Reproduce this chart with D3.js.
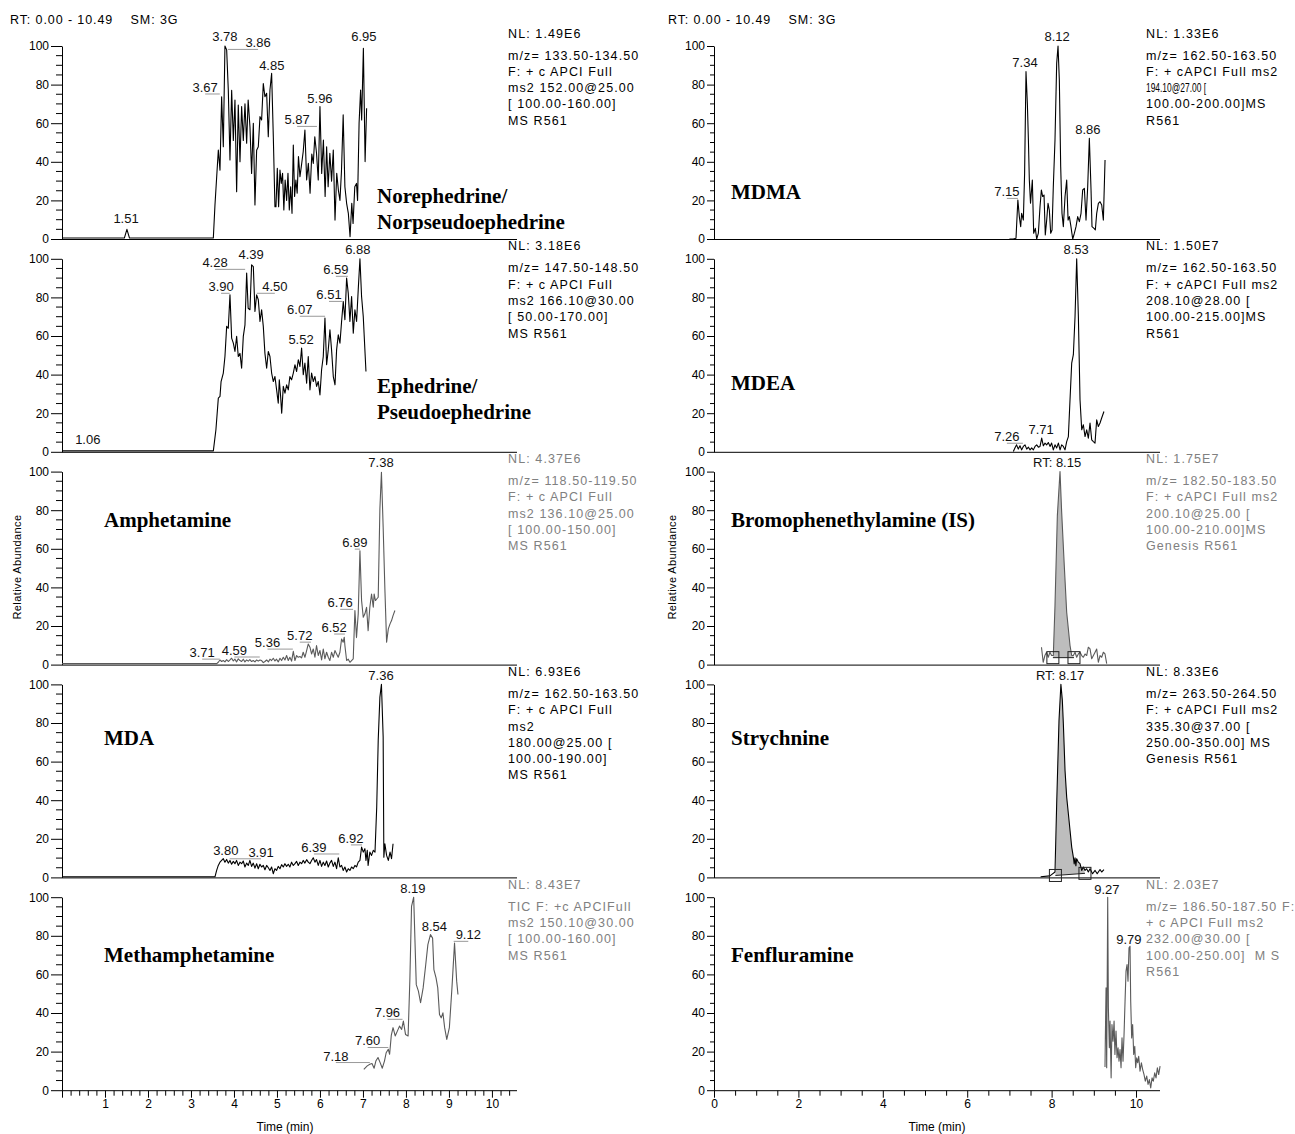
<!DOCTYPE html>
<html>
<head>
<meta charset="utf-8">
<script src="https://cdn.jsdelivr.net/npm/d3@7"></script>
<style>
  body { margin: 0; background: #fff; }
  text { font-family: 'Liberation Sans', Arial, sans-serif; }
  .name { font-family: 'Liberation Serif', 'Times New Roman', serif; font-weight: bold; font-size: 21px; }
</style>
</head>
<body>
<svg id="chart" width="1295" height="1134"></svg>
<script>
// ---- data (time in min, relative abundance in %) ----
var yTicks = [0, 20, 40, 60, 80, 100];
var leftTimeTicks = [1, 2, 3, 4, 5, 6, 7, 8, 9, 10];
var rightTimeTicks = [0, 2, 4, 6, 8, 10];
var header = "RT: 0.00 - 10.49    SM: 3G";

var norephedrine = [[0,0.5],[1.45,0.5],[1.51,5],[1.57,0.5],[3.52,0.5],[3.558,17.6],[3.636,46.1],[3.675,35.7],[3.713,73.7],[3.752,47.8],[3.79,100],[3.83,98],[3.868,77.2],[3.907,41],[3.946,77],[3.985,51],[4.023,72],[4.062,24.5],[4.10,69.4],[4.14,40],[4.178,68.6],[4.217,51],[4.256,70],[4.295,49.6],[4.33,72],[4.372,58],[4.41,34],[4.45,60],[4.488,17.6],[4.527,46],[4.566,47.8],[4.605,63.4],[4.643,61.7],[4.682,80.6],[4.72,73.7],[4.76,75.5],[4.798,53],[4.837,77.2],[4.876,85.8],[4.915,53],[4.953,16.7],[4.977,16.7],[5.008,36.6],[5.038,16.7],[5.07,35.7],[5.10,28.8],[5.13,34],[5.16,15],[5.19,30.6],[5.225,20],[5.256,34],[5.287,15],[5.318,27.1],[5.35,13.3],[5.38,48.7],[5.41,22],[5.44,30.6],[5.47,23.7],[5.50,42.7],[5.535,32.3],[5.566,37.5],[5.61,45.2],[5.65,56.5],[5.69,30.6],[5.73,39.2],[5.77,23.7],[5.81,44],[5.845,39.2],[5.88,53],[5.92,44.4],[5.96,30.6],[6.0,68.6],[6.04,34],[6.08,51.3],[6.12,22],[6.155,47.8],[6.19,27.1],[6.23,44.4],[6.27,30],[6.31,46.1],[6.35,9.8],[6.39,34],[6.43,25],[6.465,20],[6.50,35],[6.54,64.3],[6.58,27.1],[6.62,18.5],[6.66,13.3],[6.70,1.2],[6.74,18.5],[6.77,8.1],[6.81,27.1],[6.85,28.8],[6.875,20],[6.91,60],[6.945,77.2],[6.97,61.7],[7.01,98.8],[7.05,40.1],[7.085,67.7]];
var ephedrine = [[0,0.5],[3.52,0.5],[3.58,11.4],[3.636,27.8],[3.675,28.7],[3.70,36.4],[3.752,40.8],[3.79,49.4],[3.83,65],[3.868,64],[3.907,81.3],[3.946,58.9],[3.985,56.3],[4.023,52],[4.062,59.8],[4.10,49.4],[4.14,51],[4.178,43.3],[4.217,59.8],[4.256,65.8],[4.295,92.6],[4.33,74.4],[4.372,73.6],[4.41,96.9],[4.45,96],[4.488,72.7],[4.527,81.3],[4.566,78.8],[4.605,67.5],[4.643,73.6],[4.682,65],[4.72,51],[4.76,43.3],[4.798,52],[4.837,49.4],[4.876,40.8],[4.915,36.4],[4.953,39],[4.992,32.1],[5.03,25.2],[5.054,37.3],[5.085,28.7],[5.11,20],[5.147,33.9],[5.186,30.4],[5.225,34.7],[5.263,32.1],[5.30,39],[5.34,37.3],[5.38,40.8],[5.418,45.1],[5.457,41.6],[5.496,47.7],[5.535,44.2],[5.573,53.7],[5.612,39.9],[5.65,46],[5.69,35.6],[5.728,49.4],[5.767,32.1],[5.806,40.8],[5.845,36.4],[5.883,39],[5.922,33.9],[5.96,36.4],[6.0,29.5],[6.038,42.5],[6.077,49.4],[6.116,69.3],[6.155,45.1],[6.193,52.8],[6.232,63.2],[6.27,52.8],[6.31,39],[6.35,34.7],[6.387,52.8],[6.426,60.6],[6.465,56.3],[6.503,67.5],[6.542,77.9],[6.58,68.4],[6.62,90],[6.658,82.2],[6.697,67.5],[6.736,80.5],[6.775,61.5],[6.813,73.6],[6.852,67.5],[6.89,83.9],[6.93,100],[6.968,80.5],[7.007,70.1],[7.07,41.6]];
var amphetamine = [[0,0.5],[3.6,0.5],[3.635,1.2],[3.674,2.4],[3.713,1.6],[3.752,2.1],[3.79,1.4],[3.83,2.6],[3.868,1.6],[3.907,2.4],[3.945,3.3],[3.984,1.9],[4.023,2.8],[4.06,1.4],[4.10,3.0],[4.139,2.1],[4.178,1.6],[4.216,2.8],[4.255,1.4],[4.294,2.4],[4.333,1.8],[4.37,2.6],[4.41,1.6],[4.449,2.1],[4.488,1.4],[4.527,2.4],[4.565,1.8],[4.604,2.4],[4.643,2.1],[4.682,1.0],[4.72,1.6],[4.76,2.4],[4.80,1.4],[4.837,2.8],[4.875,2.1],[4.914,3.3],[4.953,1.9],[4.99,2.8],[5.03,1.4],[5.07,3.3],[5.108,2.1],[5.147,3.8],[5.185,2.4],[5.224,4.7],[5.263,2.1],[5.30,3.8],[5.34,1.8],[5.38,6.9],[5.418,2.1],[5.457,4.7],[5.495,3.8],[5.534,4.2],[5.573,3.5],[5.61,6.4],[5.65,3.8],[5.69,7.3],[5.728,10.7],[5.767,9.0],[5.805,5.5],[5.844,8.1],[5.883,3.8],[5.92,9.9],[5.96,4.7],[6.0,7.3],[6.038,2.4],[6.077,8.1],[6.115,3.0],[6.154,6.4],[6.193,3.8],[6.23,2.1],[6.27,6.4],[6.31,3.8],[6.348,7.3],[6.387,5.5],[6.425,3.8],[6.464,6.4],[6.503,13.3],[6.54,11.6],[6.565,14.2],[6.58,9.9],[6.62,2.1],[6.658,2.8],[6.697,1.2],[6.735,2.1],[6.774,3.0],[6.813,28],[6.85,14],[6.89,26.3],[6.93,59],[6.968,33.2],[7.007,24.5],[7.045,26.3],[7.084,29.7],[7.12,17.6],[7.16,29.7],[7.20,36.6],[7.24,29.7],[7.26,36.6],[7.29,33.2],[7.32,34],[7.355,34.9],[7.394,80.7],[7.43,99.7],[7.47,71.2],[7.51,39.2],[7.55,11.6],[7.59,18.5],[7.63,21.1],[7.665,22.8],[7.70,25.4],[7.743,28]];
var mda = [[0,0.3],[3.558,0.3],[3.597,3.6],[3.635,6.2],[3.674,7.9],[3.713,8.8],[3.752,9.7],[3.79,7.9],[3.83,9.3],[3.868,7.4],[3.907,8.8],[3.945,6.8],[3.984,8.3],[4.023,7.1],[4.06,8.8],[4.10,6.2],[4.139,7.9],[4.178,7.1],[4.216,8.5],[4.255,5.4],[4.294,7.4],[4.333,6.2],[4.37,8.8],[4.41,5.7],[4.449,7.4],[4.488,4.8],[4.527,7.1],[4.565,4.5],[4.604,6.8],[4.643,5.4],[4.682,6.2],[4.72,4.0],[4.76,6.2],[4.80,5.0],[4.837,3.6],[4.875,5.4],[4.914,1.9],[4.953,4.5],[4.99,3.6],[5.03,5.7],[5.07,4.5],[5.108,6.6],[5.147,5.4],[5.185,7.1],[5.224,5.7],[5.263,6.8],[5.30,5.4],[5.34,7.9],[5.38,6.2],[5.418,7.1],[5.457,8.3],[5.495,6.2],[5.534,7.9],[5.573,7.1],[5.61,8.8],[5.65,7.4],[5.69,9.2],[5.728,7.9],[5.767,7.1],[5.805,8.8],[5.844,10.2],[5.883,7.9],[5.92,9.2],[5.96,6.2],[6.0,8.8],[6.038,5.7],[6.077,7.9],[6.115,6.2],[6.154,8.5],[6.193,5.4],[6.23,7.4],[6.27,8.8],[6.31,5.7],[6.348,7.9],[6.387,4.5],[6.425,10.2],[6.464,5.4],[6.503,6.2],[6.54,3.6],[6.58,5.4],[6.62,2.8],[6.658,4.5],[6.697,3.6],[6.735,5.4],[6.774,4.5],[6.813,6.2],[6.85,5.4],[6.89,7.9],[6.93,8.8],[6.968,15.7],[7.007,13.1],[7.045,14.9],[7.07,8.8],[7.10,14],[7.12,6.2],[7.16,13.1],[7.20,11.4],[7.24,14],[7.28,13.1],[7.32,36.4],[7.355,71],[7.394,93.4],[7.43,100],[7.47,72.7],[7.486,10.5],[7.51,17.4],[7.55,11.4],[7.59,8.8],[7.63,13.1],[7.665,9.7],[7.70,17.4]];
var methamphetamine = [[7.02,10.8],[7.10,12.6],[7.16,13.4],[7.21,13.8],[7.26,11.4],[7.30,15.1],[7.35,16.9],[7.40,14.3],[7.45,11.4],[7.50,15.1],[7.54,19.4],[7.59,21.2],[7.62,18.6],[7.66,28.6],[7.70,32.4],[7.75,28.1],[7.80,30.6],[7.85,33.2],[7.90,31.5],[7.94,35.8],[7.99,28.9],[8.05,28.1],[8.09,56.5],[8.13,95.2],[8.18,100],[8.24,54.7],[8.29,51.3],[8.34,45.3],[8.40,53],[8.46,65],[8.51,75.4],[8.57,80.6],[8.62,78.8],[8.65,62.5],[8.70,58.2],[8.74,53],[8.78,39.2],[8.82,37.5],[8.86,40.1],[8.90,32.4],[8.95,26.3],[9.01,32.4],[9.07,53],[9.13,76.2],[9.18,56.5],[9.21,49.6]];
var mdma = [[7.0,0],[7.09,0],[7.156,0.4],[7.20,20.2],[7.235,11.6],[7.267,6.4],[7.29,13.3],[7.33,9.8],[7.36,34],[7.393,86.7],[7.425,70.3],[7.45,51.3],[7.472,30.6],[7.50,18.5],[7.543,30.6],[7.575,3],[7.614,5.5],[7.646,0],[7.686,3],[7.725,16.7],[7.757,25.4],[7.788,22],[7.82,22.8],[7.85,2.1],[7.883,9.8],[7.915,18.5],[7.946,15],[7.978,3],[8.01,4.7],[8.04,27.1],[8.08,51.3],[8.12,91],[8.152,100],[8.183,82.4],[8.215,37.5],[8.246,13.3],[8.278,6.4],[8.318,22],[8.357,30.6],[8.39,9.8],[8.42,11.6],[8.452,7.3],[8.50,0],[8.54,3],[8.578,6.4],[8.618,11.6],[8.657,9],[8.697,13.3],[8.736,25.4],[8.776,26.2],[8.815,9.8],[8.855,27.1],[8.894,52.2],[8.934,25.4],[8.957,6.4],[9.005,5.5],[9.036,4.7],[9.068,13.3],[9.108,18.5],[9.147,19.3],[9.187,17.6],[9.226,9.8],[9.266,40.9]];
var mdea = [[7.093,0.2],[7.13,2],[7.17,3.6],[7.21,1.4],[7.25,3.1],[7.29,1],[7.33,2.8],[7.37,3.6],[7.41,1.4],[7.45,2.4],[7.49,1],[7.527,2],[7.567,1],[7.607,2.8],[7.646,3.6],[7.686,2.4],[7.725,2.8],[7.765,7.1],[7.804,3.1],[7.844,4.5],[7.883,3.6],[7.922,4.8],[7.962,2.8],[8.0,4.5],[8.04,1],[8.08,3.6],[8.12,2],[8.16,4.5],[8.2,1],[8.238,3.6],[8.278,2.8],[8.317,1],[8.357,5.3],[8.397,7.9],[8.436,27],[8.476,46],[8.515,50.3],[8.555,70.1],[8.594,100],[8.634,70.1],[8.673,27],[8.713,11.4],[8.752,14],[8.792,7.9],[8.831,11.4],[8.87,7.1],[8.91,14.9],[8.95,6.2],[8.99,5.3],[9.028,4.5],[9.068,16.6],[9.107,13.1],[9.147,14.9],[9.186,17.5],[9.24,20.9]];
var bromo = [[7.76,9.0],[7.80,1.2],[7.84,4.7],[7.88,6.4],[7.92,3.8],[7.96,6.4],[8.0,4.7],[8.04,4.7],[8.08,30.6],[8.136,77.2],[8.199,100],[8.238,79],[8.30,51.3],[8.357,27.1],[8.436,9.9],[8.476,4.7],[8.515,4.7],[8.555,6.4],[8.594,3.8],[8.633,5.5],[8.673,6.4],[8.713,4.7],[8.752,3.8],[8.792,5.5],[8.831,4.7],[8.87,9.0],[8.91,8.1],[8.95,3.0],[8.99,4.7],[9.03,6.4],[9.068,8.1],[9.107,1.2],[9.147,4.7],[9.186,3.8],[9.226,6.4],[9.265,5.5],[9.305,0.5]];
var strychnine = [[7.74,0.3],[7.96,0.8],[8.08,2.8],[8.12,38.2],[8.175,81.3],[8.22,100],[8.254,91.7],[8.278,79.6],[8.318,55.4],[8.357,41.6],[8.397,33],[8.436,24.4],[8.476,15.7],[8.515,10.5],[8.535,7.0],[8.555,10.2],[8.575,6.0],[8.594,9.7],[8.633,7.9],[8.673,7.1],[8.713,3.6],[8.752,5.4],[8.792,3.6],[8.83,4.5],[8.87,2.8],[8.91,4.5],[8.97,1.9],[9.03,3.6],[9.08,1.9],[9.147,4.1],[9.186,2.8],[9.24,4]];
var fenfluramine = [[9.265,12],[9.273,27.1],[9.29,53],[9.305,11.6],[9.329,100],[9.345,42.7],[9.368,22],[9.384,35.8],[9.41,6.4],[9.43,34],[9.455,25.4],[9.48,35.8],[9.50,18.5],[9.526,30.6],[9.55,16.8],[9.574,22],[9.597,15],[9.621,21.1],[9.645,11.6],[9.668,27.1],[9.692,15],[9.716,28.9],[9.74,46.1],[9.763,61.7],[9.787,65.1],[9.81,56.5],[9.834,73.8],[9.858,74.6],[9.874,46.1],[9.897,27.1],[9.92,34],[9.945,18.5],[9.97,22.8],[9.992,11.6],[10.016,16.8],[10.04,14.2],[10.063,17.6],[10.095,9.9],[10.127,14.2],[10.158,10.7],[10.19,8.1],[10.22,4.7],[10.253,7.3],[10.285,3],[10.316,5.5],[10.348,1.2],[10.38,6.4],[10.41,4.7],[10.443,9],[10.474,6.4],[10.506,11.6],[10.537,8.1],[10.57,12.5]];

// peak labels: [text, time, abundance, time of peak the leader runs to]
var noreLabels = [["1.51",1.49,10.4],["3.67",3.33,78.5,3.67],["3.78",3.79,104.7],["3.86",4.56,101.6,3.86],["4.85",4.88,90],["5.87",5.47,61.7,5.93],["5.96",6.0,73],["6.95",7.02,104.7]];
var ephLabels = [["1.06",0.60,6.2],["3.90",3.70,85.5,3.90],["4.28",3.56,97.9,4.26],["4.39",4.40,102],["4.50",4.95,85.5,4.53],["6.07",5.53,73.6,6.12],["5.52",5.56,58],["6.51",6.21,81.3,6.53],["6.59",6.37,94.3,6.65],["6.88",6.88,105]];
var amphLabels = [["3.71",3.26,6.2,3.67],["4.59",4.01,7.3,4.6],["5.36",4.78,11.4,5.37],["5.72",5.53,15,5.79],["6.52",6.33,19.2,6.58],["6.76",6.47,32,6.77],["6.89",6.81,63.2,6.93],["7.38",7.42,104.7]];
var mdaLabels = [["3.80",3.81,14],["3.91",4.63,13,3.9],["6.39",5.86,15.5,6.45],["6.92",6.72,20.2,6.98],["7.36",7.42,104.7]];
var methLabels = [["8.19",8.16,104.6],["8.54",8.66,84.9],["9.12",9.45,80.5,9.11],["7.96",7.57,40.1,7.92],["7.60",7.11,25.5,7.59],["7.18",6.37,17.7,7.16]];
var mdmaLabels = [["7.34",7.37,91.2],["8.12",8.13,104.7],["8.86",8.86,56.5],["7.15",6.94,24.4,7.2]];
var mdeaLabels = [["8.53",8.58,105],["7.26",6.94,7.8,7.32],["7.71",7.75,11.4]];
var bromoLabels = [["RT: 8.15",8.13,104.7]];
var strychLabels = [["RT: 8.17",8.2,104.7]];
var fenLabels = [["9.27",9.31,104],["9.79",9.83,78.2]];

// integrated peak baselines: [start, end] as [time, abundance]
var bromoBase = [[8.03,3.6],[8.53,3.6]];
var strychBase = [[8.09,1.0],[8.79,2.1]];

var noreInfo = ["NL: 1.49E6","m/z= 133.50-134.50","F: + c APCI Full","ms2 152.00@25.00","[ 100.00-160.00]","MS R561"];
var ephInfo = ["NL: 3.18E6","m/z= 147.50-148.50","F: + c APCI Full","ms2 166.10@30.00","[ 50.00-170.00]","MS R561"];
var amphInfo = ["NL: 4.37E6","m/z= 118.50-119.50","F: + c APCI Full","ms2 136.10@25.00","[ 100.00-150.00]","MS R561"];
var mdaInfo = ["NL: 6.93E6","m/z= 162.50-163.50","F: + c APCI Full","ms2","180.00@25.00 [","100.00-190.00]","MS R561"];
var methInfo = ["NL: 8.43E7","TIC F: +c APCIFull","ms2 150.10@30.00","[ 100.00-160.00]","MS R561"];
var mdmaInfo = ["NL: 1.33E6","m/z= 162.50-163.50","F: + cAPCI Full ms2","194.10@27.00 [","100.00-200.00]MS","R561"];
var mdeaInfo = ["NL: 1.50E7","m/z= 162.50-163.50","F: + cAPCI Full ms2","208.10@28.00 [","100.00-215.00]MS","R561"];
var bromoInfo = ["NL: 1.75E7","m/z= 182.50-183.50","F: + cAPCI Full ms2","200.10@25.00 [","100.00-210.00]MS","Genesis R561"];
var strychInfo = ["NL: 8.33E6","m/z= 263.50-264.50","F: + cAPCI Full ms2","335.30@37.00 [","250.00-350.00] MS","Genesis R561"];
var fenInfo = ["NL: 2.03E7","m/z= 186.50-187.50 F:","+ c APCI Full ms2","232.00@30.00 [","100.00-250.00]  M S","R561"];

var noreName = ["Norephedrine/","Norpseudoephedrine"];
var ephName = ["Ephedrine/","Pseudoephedrine"];
var amphName = ["Amphetamine"];
var mdaName = ["MDA"];
var methName = ["Methamphetamine"];
var mdmaName = ["MDMA"];
var mdeaName = ["MDEA"];
var bromoName = ["Bromophenethylamine (IS)"];
var strychName = ["Strychnine"];
var fenName = ["Fenfluramine"];

// ---- layout ----
var panels = [
    {col:0, row:0, trace:norephedrine, labels:noreLabels, info:noreInfo, name:noreName, grey:false, nameDx:315, nameDy:150},
    {col:0, row:1, trace:ephedrine, labels:ephLabels, info:ephInfo, name:ephName, grey:false, nameDx:315, nameDy:127},
    {col:0, row:2, trace:amphetamine, labels:amphLabels, info:amphInfo, name:amphName, grey:true, nameDx:42, nameDy:48},
    {col:0, row:3, trace:mda, labels:mdaLabels, info:mdaInfo, name:mdaName, grey:false, nameDx:42, nameDy:54},
    {col:0, row:4, trace:methamphetamine, labels:methLabels, info:methInfo, name:methName, grey:true, nameDx:42, nameDy:58},
    {col:1, row:0, trace:mdma, labels:mdmaLabels, info:mdmaInfo, name:mdmaName, grey:false, nameDx:17, nameDy:146, squeeze:3},
    {col:1, row:1, trace:mdea, labels:mdeaLabels, info:mdeaInfo, name:mdeaName, grey:false, nameDx:17, nameDy:124},
    {col:1, row:2, trace:bromo, labels:bromoLabels, info:bromoInfo, name:bromoName, grey:true, nameDx:17, nameDy:48, base:bromoBase},
    {col:1, row:3, trace:strychnine, labels:strychLabels, info:strychInfo, name:strychName, grey:false, nameDx:17, nameDy:54, base:strychBase},
    {col:1, row:4, trace:fenfluramine, labels:fenLabels, info:fenInfo, name:fenName, grey:true, nameDx:17, nameDy:58}
];

var svg = d3.select("#chart");
var colX = [
    d3.scaleLinear().domain([0, 10.49]).range([62, 513]),
    d3.scaleLinear().domain([0, 10.49]).range([714, 1156.7])
];
var axisEnd = [517, 1160];
var infoX = [508, 1146];
var plotH = 193;
function rowTop(r) { return 46 + r * 212.8; }

svg.append("rect").attr("width", 1295).attr("height", 1134).attr("fill", "#fff");

[10, 668].forEach(function (hx) {
    svg.append("text").attr("x", hx).attr("y", 24)
        .attr("font-size", 12.5).attr("letter-spacing", 0.9)
        .attr("xml:space", "preserve").style("white-space", "pre")
        .text(header);
});

panels.forEach(function (p) {
    var x = colX[p.col];
    var top = rowTop(p.row);
    var y = d3.scaleLinear().domain([0, 100]).range([top + plotH, top]);
    var g = svg.append("g");
    var major = p.col ? 7 : 11, minor = p.col ? 4 : 6;

    // y axis
    var ya = g.append("g").attr("transform", "translate(" + x(0) + ",0)")
        .call(d3.axisLeft(y).tickValues(yTicks).tickSize(major).tickSizeOuter(0).tickPadding(2));
    ya.select(".domain").attr("stroke", "#000");
    ya.selectAll(".tick line").attr("stroke", "#000");
    ya.selectAll(".tick text").attr("font-size", 12).attr("fill", "#000")
        .attr("font-family", "'Liberation Sans', Arial, sans-serif");
    g.selectAll(".minorY").data(d3.range(5, 100, 5).filter(function (v) { return v % 20; }))
        .enter().append("line")
        .attr("x1", x(0) - minor).attr("x2", x(0))
        .attr("y1", function (v) { return y(v); }).attr("y2", function (v) { return y(v); })
        .attr("stroke", "#000");

    // time baseline
    g.append("line").attr("x1", x(0)).attr("x2", axisEnd[p.col])
        .attr("y1", y(0) + 0.5).attr("y2", y(0) + 0.5).attr("stroke", "#000");

    // integrated peak
    if (p.base) {
        var b0 = p.base[0], b1 = p.base[1];
        var inside = p.trace.filter(function (d) { return d[0] > b0[0] && d[0] < b1[0]; });
        var poly = [b0].concat(inside, [b1]);
        g.append("path")
            .attr("d", d3.line().x(function (d) { return x(d[0]); }).y(function (d) { return y(d[1]); })(poly) + "Z")
            .attr("fill", "#bdbdbd").attr("stroke", "none");
    }

    var lineColor = p.grey ? "#5a5a5a" : "#000";
    g.append("path").datum(p.trace)
        .attr("d", d3.line().x(function (d) { return x(d[0]); }).y(function (d) { return y(d[1]); }))
        .attr("fill", "none").attr("stroke", lineColor).attr("stroke-width", 1.1)
        .attr("stroke-linejoin", "round");

    if (p.base) {
        g.append("line")
            .attr("x1", x(p.base[0][0])).attr("y1", y(p.base[0][1]))
            .attr("x2", x(p.base[1][0])).attr("y2", y(p.base[1][1]))
            .attr("stroke", "#222");
        g.selectAll(".mark").data(p.base).enter().append("rect")
            .attr("x", function (d) { return x(d[0]) - 6; })
            .attr("y", function (d) { return y(d[1]) - 6; })
            .attr("width", 12).attr("height", 12)
            .attr("fill", "none").attr("stroke", "#222");
    }

    // peak labels
    p.labels.forEach(function (l) {
        var lx = x(l[1]), ly = y(l[2]) + 4.5;
        if (l[3] !== undefined) {
            g.append("line").attr("x1", lx).attr("x2", x(l[3]))
                .attr("y1", ly + 2).attr("y2", ly + 2)
                .attr("stroke", "#999").attr("stroke-width", 1);
        }
        g.append("text").attr("x", lx).attr("y", ly)
            .attr("text-anchor", "middle").attr("font-size", 13).attr("fill", "#111")
            .text(l[0]);
    });

    // scan info
    var infoColor = p.grey ? "#808080" : "#000";
    p.info.forEach(function (s, i) {
        var t = g.append("text").attr("x", infoX[p.col])
            .attr("y", i === 0 ? top - 8.5 : top + 13.5 + (i - 1) * 16.3)
            .attr("font-size", 12.5).attr("letter-spacing", 1.1).attr("fill", infoColor)
            .attr("xml:space", "preserve").style("white-space", "pre")
            .text(s);
        if (p.squeeze === i) {
            t.attr("letter-spacing", 0).attr("textLength", 60).attr("lengthAdjust", "spacingAndGlyphs");
        }
    });

    // compound name
    p.name.forEach(function (s, i) {
        g.append("text").attr("class", "name")
            .attr("x", x(0) + p.nameDx).attr("y", top + p.nameDy + 7 + i * 26)
            .text(s);
    });

    // time axis on the last row
    if (p.row === 4) {
        var step = p.col ? 0.5 : 0.2;
        var count = p.col ? 21 : 53;
        var minorT = d3.range(count).map(function (i) { return +(i * step).toFixed(2); });
        var labelsT = p.col ? rightTimeTicks : leftTimeTicks;
        var xa = g.append("g").attr("transform", "translate(0," + (y(0) + 0.5) + ")")
            .call(d3.axisBottom(x).tickValues(minorT).tickSize(5).tickSizeOuter(0)
                .tickFormat(function (d) { return labelsT.indexOf(d) >= 0 ? d : ""; }).tickPadding(4));
        xa.select(".domain").remove();
        xa.selectAll(".tick line").attr("stroke", "#000")
            .attr("y2", function (d) { return Number.isInteger(d) && (!p.col || d % 2 === 0) ? 7 : 5; });
        xa.selectAll(".tick text").attr("font-size", 12).attr("fill", "#000")
            .attr("font-family", "'Liberation Sans', Arial, sans-serif");
        svg.append("text").attr("x", p.col ? 937 : 285).attr("y", 1131)
            .attr("text-anchor", "middle").attr("font-size", 12).text("Time (min)");
    }
});

[17, 672].forEach(function (ax) {
    svg.append("text").attr("transform", "translate(" + (ax + 4) + ",567) rotate(-90)")
        .attr("text-anchor", "middle").attr("font-size", 11).attr("letter-spacing", 0.4)
        .text("Relative Abundance");
});
</script>
</body>
</html>
